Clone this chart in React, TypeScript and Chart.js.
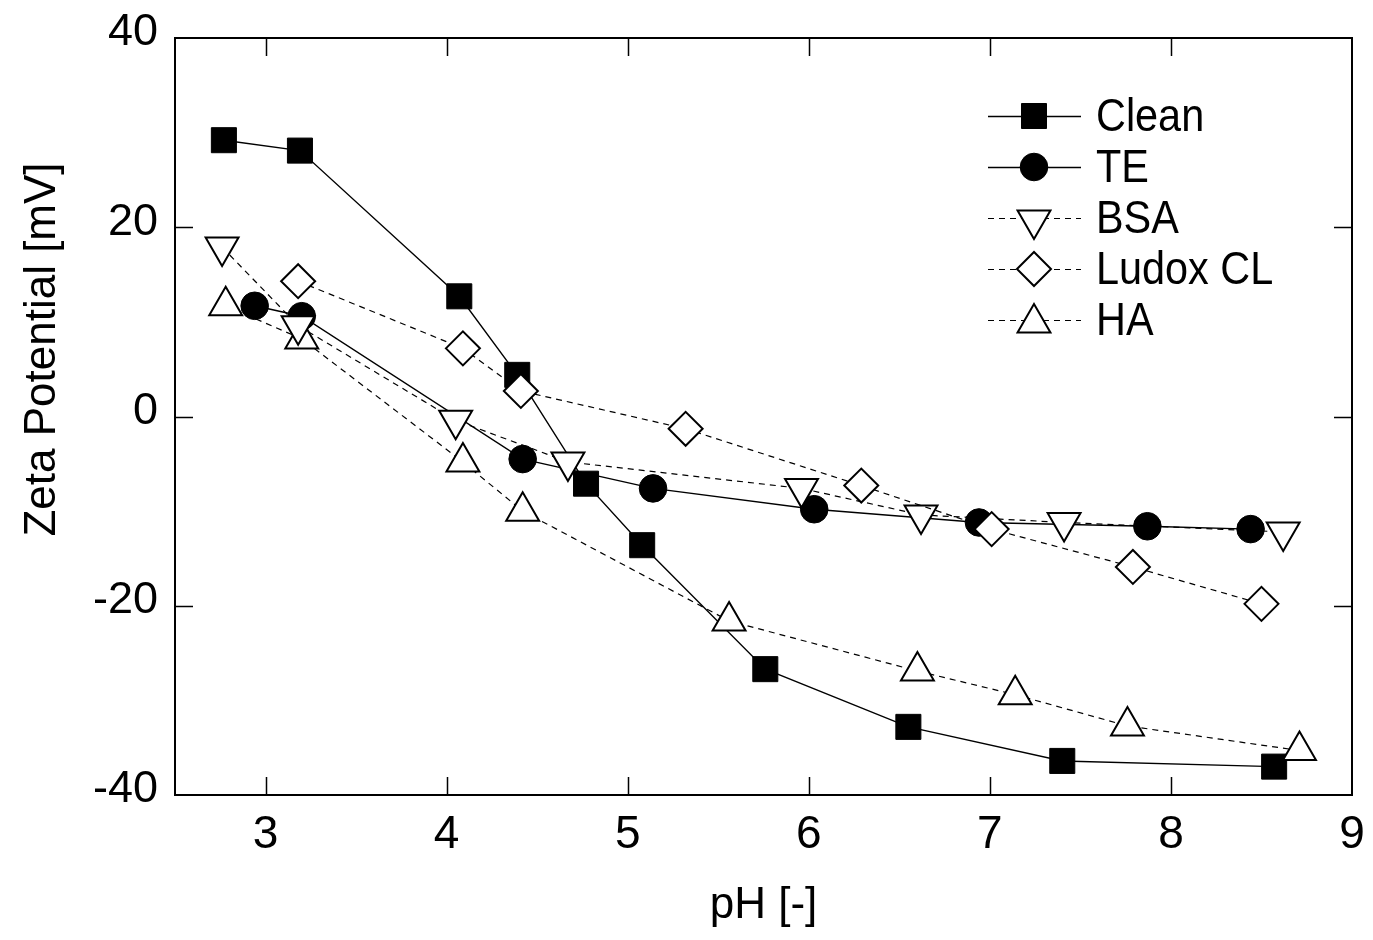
import React, { useEffect, useRef } from 'react';
import { Chart, registerables } from 'chart.js';

Chart.register(...registerables);

// ---- Data ----
const seriesNames = ['Clean', 'TE', 'BSA', 'Ludox CL', 'HA'];

const cleanPH = [2.77, 3.19, 4.07, 4.39, 4.77, 5.08, 5.76, 6.55, 7.4, 8.57];
const cleanZeta = [29.2, 28.1, 12.7, 4.4, -7.1, -13.6, -26.7, -32.8, -36.4, -37.0];

const tePH = [2.94, 3.2, 4.42, 5.14, 6.03, 6.94, 7.87, 8.44];
const teZeta = [11.7, 10.6, -4.5, -7.6, -9.8, -11.2, -11.6, -11.9];

const bsaPH = [2.76, 3.18, 4.05, 4.67, 5.96, 6.62, 7.41, 8.62];
const bsaZeta = [17.9, 9.6, -0.4, -4.8, -7.6, -10.4, -11.2, -12.2];

const ludoxPH = [3.18, 4.09, 4.41, 5.32, 6.29, 7.01, 7.79, 8.5];
const ludoxZeta = [14.3, 7.2, 2.7, -1.3, -7.3, -11.9, -15.9, -19.8];

const haPH = [2.78, 3.2, 4.09, 4.42, 5.56, 6.6, 7.14, 7.76, 8.71];
const haZeta = [11.7, 8.2, -4.8, -10.0, -21.6, -26.9, -29.4, -32.7, -35.3];

const xTickValues = [3, 4, 5, 6, 7, 8, 9];
const yTickValues = [-40, -20, 0, 20, 40];
const xTitle = 'pH [-]';
const yTitle = 'Zeta Potential [mV]';

const FONT = '"Liberation Sans", Arial, Helvetica, sans-serif';

type MarkerKind = 'square' | 'circle' | 'triDown' | 'diamond' | 'triUp';

const markerKinds: MarkerKind[] = ['square', 'circle', 'triDown', 'diamond', 'triUp'];
const filled = [true, true, false, false, false];
const dashed = [false, false, true, true, true];

function toPoints(xs: number[], ys: number[]) {
  return xs.map((x, i) => ({ x, y: ys[i] }));
}

function drawMarker(ctx: CanvasRenderingContext2D, kind: MarkerKind, x: number, y: number, fill: boolean) {
  ctx.save();
  ctx.beginPath();
  if (kind === 'square') {
    const s = 12.5;
    ctx.rect(x - s, y - s, 2 * s, 2 * s);
  } else if (kind === 'circle') {
    ctx.arc(x, y, 13.8, 0, Math.PI * 2);
  } else if (kind === 'diamond') {
    const r = 17;
    ctx.moveTo(x - r, y);
    ctx.lineTo(x, y - r);
    ctx.lineTo(x + r, y);
    ctx.lineTo(x, y + r);
    ctx.closePath();
  } else {
    const r = 19;
    let a = kind === 'triUp' ? 0 : Math.PI;
    ctx.moveTo(x + Math.sin(a) * r, y - Math.cos(a) * r);
    a += (2 * Math.PI) / 3;
    ctx.lineTo(x + Math.sin(a) * r, y - Math.cos(a) * r);
    a += (2 * Math.PI) / 3;
    ctx.lineTo(x + Math.sin(a) * r, y - Math.cos(a) * r);
    ctx.closePath();
  }
  ctx.fillStyle = fill ? '#000' : '#fff';
  ctx.fill();
  ctx.strokeStyle = '#000';
  ctx.lineWidth = fill ? 1 : 2;
  ctx.stroke();
  ctx.restore();
}

const framePlugin = {
  id: 'frameTicks',
  beforeDatasetsDraw(chart: any) {
    const { ctx, chartArea } = chart;
    const { left, right, top, bottom } = chartArea;
    const xs = chart.scales.x;
    const ys = chart.scales.y;
    ctx.save();
    ctx.strokeStyle = '#000';
    ctx.lineWidth = 1.5;
    ctx.beginPath();
    for (const v of xTickValues) {
      if (v <= xs.min || v >= xs.max) continue;
      const px = Math.round(xs.getPixelForValue(v)) + 0.5;
      ctx.moveTo(px, bottom);
      ctx.lineTo(px, bottom - 18);
      ctx.moveTo(px, top);
      ctx.lineTo(px, top + 18);
    }
    for (const v of yTickValues) {
      if (v <= ys.min || v >= ys.max) continue;
      const py = Math.round(ys.getPixelForValue(v)) + 0.5;
      ctx.moveTo(left, py);
      ctx.lineTo(left + 18, py);
      ctx.moveTo(right, py);
      ctx.lineTo(right - 18, py);
    }
    ctx.stroke();
    ctx.lineWidth = 2;
    ctx.strokeRect(left, top, right - left, bottom - top);
    ctx.restore();
  },
  afterDraw(chart: any) {
    const { ctx, chartArea } = chart;
    // y axis title (rotated)
    ctx.save();
    ctx.translate(43, chartArea.top + (chartArea.bottom - chartArea.top) / 2 - 67);
    ctx.rotate(-Math.PI / 2);
    ctx.font = `44px ${FONT}`;
    ctx.fillStyle = '#000';
    ctx.textAlign = 'center';
    ctx.textBaseline = 'middle';
    ctx.fillText(yTitle, 0, 0);
    ctx.restore();

    // legend
    const lineX0 = 988;
    const lineX1 = 1081;
    const markX = 1034;
    const textX = 1096;
    const rowY0 = 116;
    const rowStep = 51;
    seriesNames.forEach((name, i) => {
      const y = rowY0 + i * rowStep;
      ctx.save();
      ctx.strokeStyle = '#000';
      ctx.lineWidth = dashed[i] ? 1.2 : 1.5;
      ctx.setLineDash(dashed[i] ? [6, 5] : []);
      ctx.beginPath();
      ctx.moveTo(lineX0, y + 0.5);
      ctx.lineTo(lineX1, y + 0.5);
      ctx.stroke();
      ctx.setLineDash([]);
      ctx.restore();
      drawMarker(ctx, markerKinds[i], markX, y + (markerKinds[i] === 'triDown' ? 2 : markerKinds[i] === 'triUp' ? 3 : 0), filled[i]);
      ctx.save();
      ctx.translate(textX, y);
      ctx.scale(0.9, 1);
      ctx.font = `46px ${FONT}`;
      ctx.fillStyle = '#000';
      ctx.textAlign = 'left';
      ctx.textBaseline = 'middle';
      ctx.fillText(name, 0, 2);
      ctx.restore();
    });
  },
};

export default function App() {
  const ref = useRef<HTMLCanvasElement | null>(null);

  useEffect(() => {
    if (!ref.current) return;
    const pointStyles: any[] = ['rect', 'circle', 'triangle', 'rectRot', 'triangle'];
    const radii = [17.7, 13.8, 19, 17, 19];
    const rotations = [0, 0, 180, 0, 0];
    const dataSets = [
      toPoints(cleanPH, cleanZeta),
      toPoints(tePH, teZeta),
      toPoints(bsaPH, bsaZeta),
      toPoints(ludoxPH, ludoxZeta),
      toPoints(haPH, haZeta),
    ];
    const drawOrder = [5, 4, 2, 1, 3];
    const hiddenGrid = {
      display: true,
      drawOnChartArea: false,
      drawTicks: true,
      color: 'rgba(0,0,0,0)',
      tickColor: 'rgba(0,0,0,0)',
    };

    const chart = new Chart(ref.current, {
      type: 'line',
      data: {
        datasets: seriesNames.map((name, i) => ({
          label: name,
          data: dataSets[i],
          borderColor: '#000',
          borderWidth: dashed[i] ? 1.2 : 1.4,
          borderDash: dashed[i] ? [6, 5] : [],
          backgroundColor: filled[i] ? '#000' : '#fff',
          pointStyle: pointStyles[i],
          pointRadius: radii[i],
          pointRotation: rotations[i],
          pointBackgroundColor: filled[i] ? '#000' : '#fff',
          pointBorderColor: '#000',
          pointBorderWidth: filled[i] ? 1 : 2,
          fill: false,
          tension: 0,
          order: drawOrder[i],
          clip: false as any,
        })),
      },
      options: {
        responsive: false,
        animation: false,
        events: [],
        layout: { padding: { top: 38, right: 14, left: 0, bottom: 0 } },
        plugins: {
          legend: { display: false },
          tooltip: { enabled: false },
        },
        scales: {
          x: {
            type: 'linear',
            min: 2.5,
            max: 9,
            grid: { ...hiddenGrid, tickLength: 8 },
            border: { display: false },
            afterBuildTicks: (scale: any) => {
              scale.ticks = xTickValues.map((v) => ({ value: v }));
            },
            afterFit: (scale: any) => {
              scale.height = 145;
              scale.paddingLeft = 0;
              scale.paddingRight = 0;
            },
            ticks: {
              color: '#000',
              font: { family: FONT, size: 46 },
              padding: 5,
              maxRotation: 0,
              autoSkip: false,
            },
            title: {
              display: true,
              text: xTitle,
              color: '#000',
              font: { family: FONT, size: 44 },
              padding: { top: 0, bottom: 8 },
            },
          },
          y: {
            type: 'linear',
            min: -40,
            max: 40,
            grid: { ...hiddenGrid, tickLength: 6 },
            border: { display: false },
            afterBuildTicks: (scale: any) => {
              scale.ticks = yTickValues.map((v) => ({ value: v }));
            },
            afterFit: (scale: any) => {
              scale.width = 175;
              scale.paddingTop = 0;
              scale.paddingBottom = 0;
            },
            ticks: {
              color: '#000',
              font: { family: FONT, size: 45 },
              padding: 11,
              labelOffset: -5,
              autoSkip: false,
            },
          },
        },
      },
      plugins: [framePlugin],
    });
    return () => chart.destroy();
  }, []);

  return (
    <canvas
      ref={ref}
      width={1373}
      height={940}
      style={{ position: 'absolute', left: 0, top: 0, width: 1373, height: 940, background: '#fff' }}
    />
  );
}
